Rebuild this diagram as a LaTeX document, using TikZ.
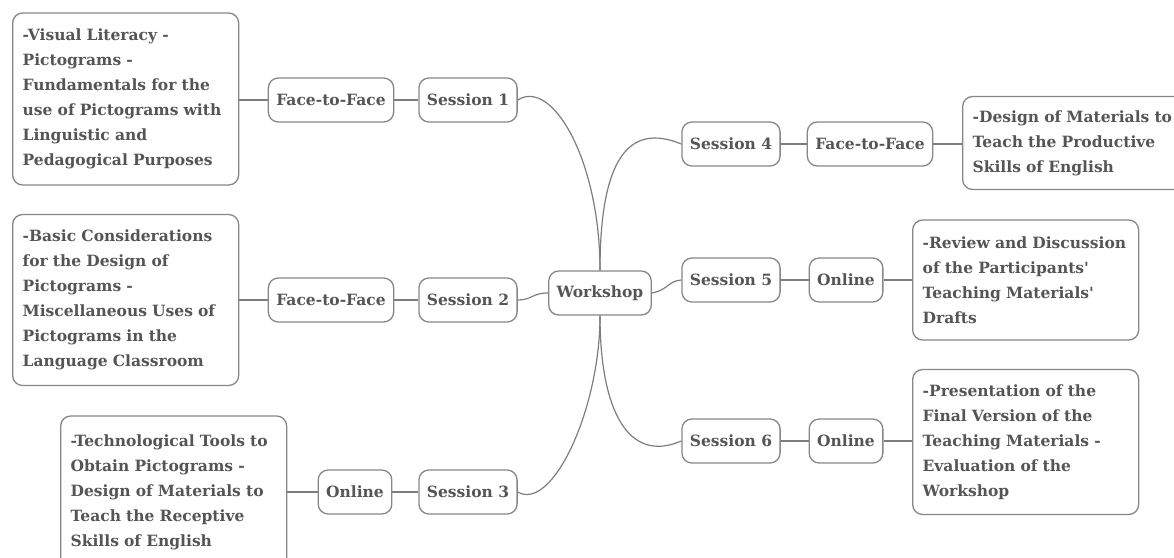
\documentclass[tikz,border=0pt]{standalone}
\usepackage{fontspec}
\setmainfont{DejaVu Serif}
\definecolor{boxgray}{RGB}{135,135,135}
\definecolor{linegray}{RGB}{125,125,125}
\definecolor{txtgray}{RGB}{85,85,85}
\begin{document}
\begin{tikzpicture}[x=1pt,y=-1pt,
 box/.style={draw=boxgray, line width=1.3pt, rounded corners=10pt, fill=white, text=txtgray, font=\bfseries\fontsize{15.5}{25}\selectfont},
 small/.style={box, minimum height=44pt, inner xsep=8pt, inner ysep=0pt},
 big/.style={box, align=left, anchor=west, text width=206pt, inner xsep=10pt, inner ysep=4pt},
 link/.style={draw=linegray, line width=1.2pt}]
\useasboundingbox (0,0) rectangle (1174,557);
% small nodes
\node[small] (ftf1) at (331,100) {Face-to-Face};
\node[small] (s1) at (468,100) {Session 1};
\node[small] (s4) at (731,144) {Session 4};
\node[small] (ftf4) at (870,144) {Face-to-Face};
\node[small] (ws) at (600,293) {Workshop};
\node[small] (s5) at (731,280) {Session 5};
\node[small] (on5) at (846,280) {Online};
\node[small] (s2) at (468,300) {Session 2};
\node[small] (ftf2) at (331,300) {Face-to-Face};
\node[small] (s6) at (731,441) {Session 6};
\node[small] (on6) at (846,441) {Online};
\node[small] (s3) at (468,492) {Session 3};
\node[small] (on3) at (355,492) {Online};
% big nodes
\node[big, minimum height=172pt] (l1) at (12,99) {-Visual Literacy -\\Pictograms -\\Fundamentals for the\\use of Pictograms with\\Linguistic and\\Pedagogical Purposes};
\node[big, minimum height=171pt] (l2) at (12,300) {-Basic Considerations\\for the Design of\\Pictograms -\\Miscellaneous Uses of\\Pictograms in the\\Language Classroom};
\node[big, minimum height=152pt] (l3) at (60,492) {-Technological Tools to\\Obtain Pictograms -\\Design of Materials to\\Teach the Receptive\\Skills of English};
\node[big, minimum height=93pt] (r4) at (962,143) {-Design of Materials to\\Teach the Productive\\Skills of English};
\node[big, minimum height=120pt] (r5) at (912,280) {-Review and Discussion\\of the Participants\textquotesingle\\Teaching Materials\textquotesingle\\Drafts};
\node[big, minimum height=145pt] (r6) at (912,442) {-Presentation of the\\Final Version of the\\Teaching Materials -\\Evaluation of the\\Workshop};
% connectors
\draw[link] (l1.east |- ftf1.west) -- (ftf1.west);
\draw[link] (ftf1.east) -- (s1.west);
\draw[link] (s1.east) .. controls (552,78) and (600,160) .. (ws.north);
\draw[link] (ws.north) .. controls (600,160) and (628,122) .. (s4.west);
\draw[link] (s4.east) -- (ftf4.west);
\draw[link] (ftf4.east) -- (r4.west |- ftf4.east);
\draw[link] (ws.east) .. controls (668,290) and (668,281) .. (s5.west);
\draw[link] (s5.east) -- (on5.west);
\draw[link] (on5.east) -- (r5.west);
\draw[link] (ws.west) .. controls (532,293) and (532,300) .. (s2.east);
\draw[link] (s2.west) -- (ftf2.west -| ftf2.east);
\draw[link] (ftf2.west) -- (l2.east);
\draw[link] (ws.south) .. controls (600,410) and (552,512) .. (s3.east);
\draw[link] (s3.west) -- (on3.east);
\draw[link] (on3.west) -- (l3.east |- on3.west);
\draw[link] (ws.south) .. controls (600,410) and (628,464) .. (s6.west);
\draw[link] (s6.east) -- (on6.west);
\draw[link] (on6.east) -- (r6.west |- on6.east);
\end{tikzpicture}
\end{document}
